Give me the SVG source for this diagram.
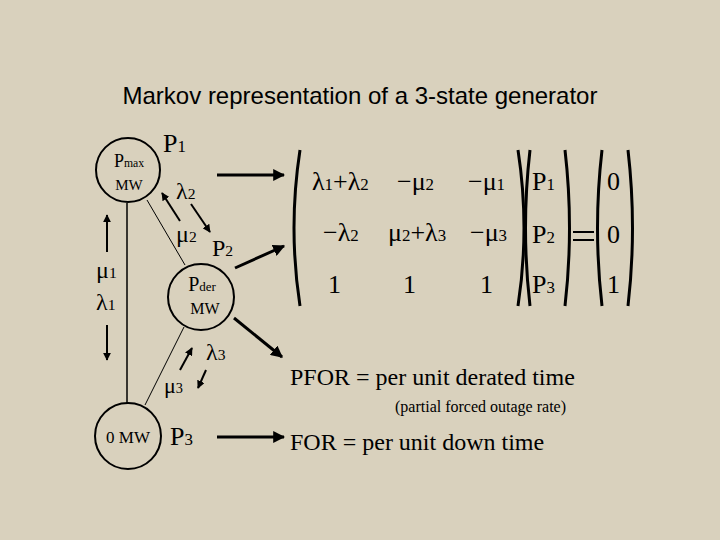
<svg xmlns="http://www.w3.org/2000/svg" width="720" height="540" viewBox="0 0 720 540">
<defs>
<marker id="ah" viewBox="0 0 10 10" refX="9" refY="5" markerWidth="4" markerHeight="4" orient="auto"><path d="M0,0L10,5L0,10z" fill="#000"/></marker>
<style>
.t{font-family:"Liberation Serif",serif;fill:#000}
.s{font-family:"Liberation Sans",sans-serif;fill:#000}
.c{fill:none;stroke:#000;stroke-width:2}
.a{stroke:#000;stroke-width:2;marker-end:url(#ah)}
.b{stroke:#000;stroke-width:3;marker-end:url(#ah)}
.p{fill:none;stroke:#000;stroke-width:3}
.u{font-size:65%}
</style>
</defs>
<rect width="720" height="540" fill="#d9d1bd"/>
<text class="s" x="360" y="104" font-size="24" text-anchor="middle">Markov representation of a 3-state generator</text>
<g id="n1"><circle class="c" cx="128" cy="170" r="32"/><text class="t" x="129" y="167" font-size="18" text-anchor="middle">P<tspan class="u">max</tspan></text><text class="t" x="129" y="190" font-size="15" text-anchor="middle">MW</text><text class="t" x="163" y="152" font-size="26">P<tspan class="u">1</tspan></text></g>
<g id="n2"><circle class="c" cx="201" cy="297" r="33"/><text class="t" x="202" y="291" font-size="20" text-anchor="middle">P<tspan class="u">der</tspan></text><text class="t" x="205" y="314" font-size="16" text-anchor="middle">MW</text><text class="t" x="212" y="256" font-size="24">P<tspan class="u">2</tspan></text></g>
<g id="n3"><circle class="c" cx="128" cy="436" r="33"/><text class="t" x="128" y="443" font-size="17" text-anchor="middle">0 MW</text><text class="t" x="170" y="445" font-size="26">P<tspan class="u">3</tspan></text></g>
<g id="connectors">
<line x1="127" y1="203" x2="127" y2="403" stroke="#000" stroke-width="1.5"/>
<line x1="147" y1="200" x2="185" y2="265" stroke="#000" stroke-width="1"/>
<line x1="184" y1="327" x2="145" y2="405" stroke="#000" stroke-width="1"/>
<line class="a" x1="107" y1="252" x2="107" y2="215"/>
<line class="a" x1="107" y1="325" x2="107" y2="360"/>
<line class="a" x1="180" y1="221" x2="162" y2="193"/>
<line class="a" x1="191" y1="204" x2="210" y2="232"/>
<line class="a" x1="180" y1="370" x2="192" y2="348"/>
<line class="a" x1="206" y1="370" x2="198" y2="388"/>
<line class="b" x1="217" y1="175" x2="284" y2="175"/>
<line class="b" x1="235" y1="268" x2="284" y2="246"/>
<line class="b" x1="234" y1="318" x2="282" y2="357"/>
<line class="b" x1="217" y1="437" x2="284" y2="437"/>
</g>
<g class="t" font-size="24">
<text x="96" y="278">μ<tspan class="u">1</tspan></text>
<text x="96" y="310">λ<tspan class="u">1</tspan></text>
<text x="176" y="199">λ<tspan class="u">2</tspan></text>
<text x="176" y="242">μ<tspan class="u">2</tspan></text>
<text x="206" y="360">λ<tspan class="u">3</tspan></text>
<text x="164" y="393" font-size="22">μ<tspan class="u">3</tspan></text>
</g>
<g id="matrix" class="t" font-size="26">
<path class="p" d="M300,150 Q288,228 300,306"/>
<path class="p" d="M518,150 Q530,228 518,306"/>
<path class="p" d="M530,150 Q521,228 530,306"/>
<path class="p" d="M565,150 Q574,228 565,306"/>
<path class="p" d="M602,150 Q593,228 602,306"/>
<path class="p" d="M628,150 Q637,228 628,306"/>
<text x="312" y="190">λ<tspan class="u">1</tspan>+λ<tspan class="u">2</tspan></text>
<text x="397" y="190">−μ<tspan class="u">2</tspan></text>
<text x="468" y="190">−μ<tspan class="u">1</tspan></text>
<text x="323" y="241">−λ<tspan class="u">2</tspan></text>
<text x="388" y="241">μ<tspan class="u">2</tspan>+λ<tspan class="u">3</tspan></text>
<text x="470" y="241">−μ<tspan class="u">3</tspan></text>
<text x="328" y="293">1</text>
<text x="403" y="293">1</text>
<text x="480" y="293">1</text>
<text x="532" y="190">P<tspan class="u">1</tspan></text>
<text x="532" y="243">P<tspan class="u">2</tspan></text>
<text x="532" y="293">P<tspan class="u">3</tspan></text>
<line x1="573" y1="232" x2="594" y2="232" stroke="#000" stroke-width="2"/>
<line x1="573" y1="240" x2="594" y2="240" stroke="#000" stroke-width="2"/>
<text x="607" y="190">0</text>
<text x="607" y="243">0</text>
<text x="607" y="293">1</text>
</g>
<text class="t" x="290" y="385" font-size="24">PFOR = per unit derated time</text>
<text class="t" x="395" y="412" font-size="16">(partial forced outage rate)</text>
<text class="t" x="290" y="450" font-size="24">FOR = per unit down time</text>
</svg>
